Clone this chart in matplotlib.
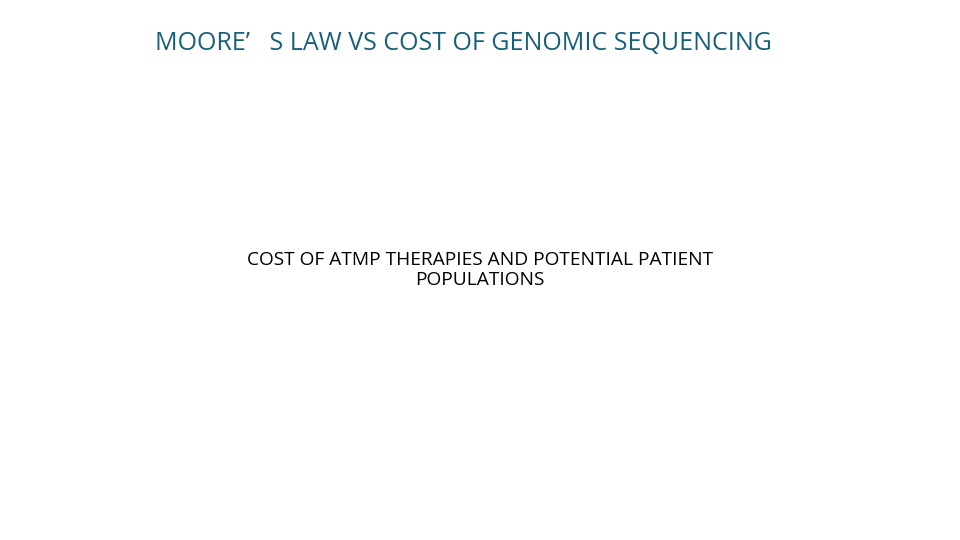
import matplotlib.pyplot as plt

# texty na slajdu
title = 'MOORE’   S LAW VS COST OF GENOMIC SEQUENCING'
subtitle_lines = ['COST OF ATMP THERAPIES AND POTENTIAL PATIENT', 'POPULATIONS']

plt.rcParams['font.family'] = ['Open Sans', 'DejaVu Sans']

fig = plt.figure(figsize=(9.6, 5.4), dpi=100)
fig.patch.set_facecolor('white')

fig.text(155 / 960, 1 - 43 / 540, title, ha='left', va='center',
         fontsize=18, color='#17607a')

fig.text(480 / 960, 1 - 270 / 540, '\n'.join(subtitle_lines), ha='center',
         va='center', fontsize=13.8, color='black', linespacing=1.15)

fig.savefig('out.png', dpi=100, facecolor='white')
